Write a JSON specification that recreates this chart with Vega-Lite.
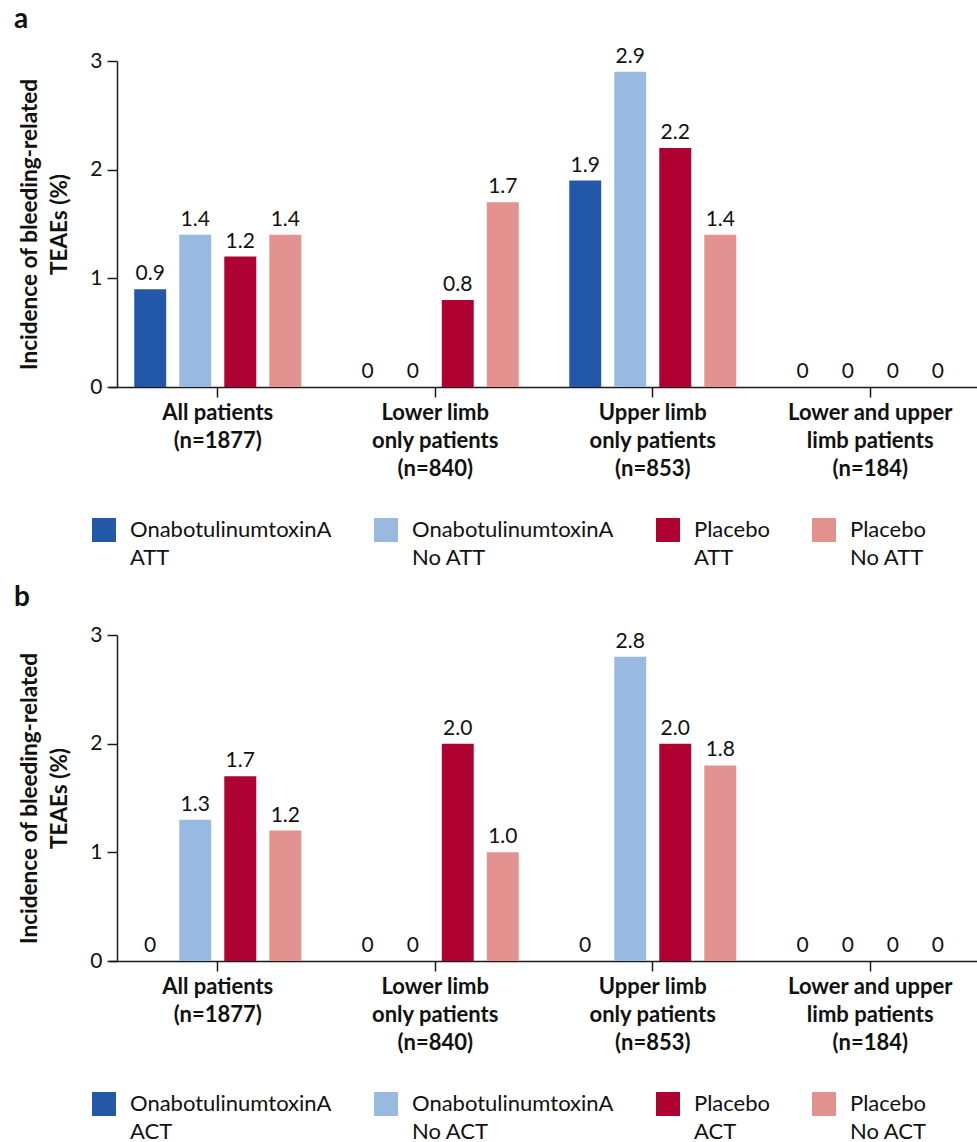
{
  "$schema": "https://vega.github.io/schema/vega-lite/v6.json",
  "background": "white",
  "padding": {"left": 14, "top": 5, "right": 0, "bottom": 0},
  "config": {
    "font": "Lato",
    "view": {"stroke": null},
    "axis": {"domainColor": "#1a1a1a", "tickColor": "#1a1a1a", "labelColor": "#111111", "titleColor": "#111111", "domainWidth": 1.5, "tickWidth": 1.5},
    "concat": {"spacing": 15}
  },
  "vconcat": [
    {
      "title": {"text": "a", "anchor": "start", "frame": "group", "fontSize": 28, "fontWeight": "bold", "color": "#111111", "dx": -95, "offset": 12},
      "width": 870,
      "height": 326,
      "data": {"values": [
        {"cat": "All patients|(n=1877)", "grp": "OnabotulinumtoxinA|ATT", "v": 0.9, "label": "0.9"},
        {"cat": "All patients|(n=1877)", "grp": "OnabotulinumtoxinA|No ATT", "v": 1.4, "label": "1.4"},
        {"cat": "All patients|(n=1877)", "grp": "Placebo|ATT", "v": 1.2, "label": "1.2"},
        {"cat": "All patients|(n=1877)", "grp": "Placebo|No ATT", "v": 1.4, "label": "1.4"},
        {"cat": "Lower limb|only patients|(n=840)", "grp": "OnabotulinumtoxinA|ATT", "v": 0, "label": "0"},
        {"cat": "Lower limb|only patients|(n=840)", "grp": "OnabotulinumtoxinA|No ATT", "v": 0, "label": "0"},
        {"cat": "Lower limb|only patients|(n=840)", "grp": "Placebo|ATT", "v": 0.8, "label": "0.8"},
        {"cat": "Lower limb|only patients|(n=840)", "grp": "Placebo|No ATT", "v": 1.7, "label": "1.7"},
        {"cat": "Upper limb|only patients|(n=853)", "grp": "OnabotulinumtoxinA|ATT", "v": 1.9, "label": "1.9"},
        {"cat": "Upper limb|only patients|(n=853)", "grp": "OnabotulinumtoxinA|No ATT", "v": 2.9, "label": "2.9"},
        {"cat": "Upper limb|only patients|(n=853)", "grp": "Placebo|ATT", "v": 2.2, "label": "2.2"},
        {"cat": "Upper limb|only patients|(n=853)", "grp": "Placebo|No ATT", "v": 1.4, "label": "1.4"},
        {"cat": "Lower and upper|limb patients|(n=184)", "grp": "OnabotulinumtoxinA|ATT", "v": 0, "label": "0"},
        {"cat": "Lower and upper|limb patients|(n=184)", "grp": "OnabotulinumtoxinA|No ATT", "v": 0, "label": "0"},
        {"cat": "Lower and upper|limb patients|(n=184)", "grp": "Placebo|ATT", "v": 0, "label": "0"},
        {"cat": "Lower and upper|limb patients|(n=184)", "grp": "Placebo|No ATT", "v": 0, "label": "0"}
      ]},
      "encoding": {
        "x": {"field": "cat", "type": "nominal", "sort": null, "scale": {"paddingInner": 0.232, "paddingOuter": 0.116},
              "axis": {"title": null, "labelExpr": "split(datum.label, '|')", "labelAngle": 0, "labelFontSize": 22, "labelFontWeight": "bold", "labelLineHeight": 28, "tickSize": 10, "labelPadding": 5}},
        "xOffset": {"field": "grp", "type": "nominal", "sort": null, "scale": {"paddingInner": 0.29, "paddingOuter": 0}},
        "y": {"field": "v", "type": "quantitative", "scale": {"domain": [0, 3]},
              "axis": {"values": [0, 1, 2, 3], "grid": false, "offset": -8, "tickSize": 10, "labelPadding": 5, "labelFontSize": 21, "title": ["Incidence of bleeding-related", "TEAEs (%)"], "titleFontSize": 22.5, "titleFontWeight": "bold", "titleLineHeight": 30, "titlePadding": 18}}
      },
      "layer": [
        {"mark": {"type": "bar"},
         "encoding": {"color": {"field": "grp", "type": "nominal", "sort": null,
           "scale": {"domain": ["OnabotulinumtoxinA|ATT", "OnabotulinumtoxinA|No ATT", "Placebo|ATT", "Placebo|No ATT"], "range": ["#2358A8", "#98B9E0", "#AF0132", "#E3928F"]},
           "legend": {"orient": "none", "legendX": -17, "legendY": 457, "direction": "horizontal", "columns": 4, "title": null, "symbolType": "square", "symbolSize": 576, "symbolStrokeWidth": 0, "labelFontSize": 22, "labelOffset": 14, "columnPadding": 42, "labelLimit": 400, "labelColor": "#111111", "labelExpr": "split(datum.label, '|')",
             "encode": {"labels": {"update": {"lineHeight": {"value": 28}}}}}}}},
        {"mark": {"type": "text", "baseline": "bottom", "dy": -5, "fontSize": 21, "color": "#111111"},
         "encoding": {"text": {"field": "label"}}}
      ]
    },
    {
      "title": {"text": "b", "anchor": "start", "frame": "group", "fontSize": 28, "fontWeight": "bold", "color": "#111111", "dx": -95, "offset": 12},
      "width": 870,
      "height": 326,
      "data": {"values": [
        {"cat": "All patients|(n=1877)", "grp": "OnabotulinumtoxinA|ACT", "v": 0, "label": "0"},
        {"cat": "All patients|(n=1877)", "grp": "OnabotulinumtoxinA|No ACT", "v": 1.3, "label": "1.3"},
        {"cat": "All patients|(n=1877)", "grp": "Placebo|ACT", "v": 1.7, "label": "1.7"},
        {"cat": "All patients|(n=1877)", "grp": "Placebo|No ACT", "v": 1.2, "label": "1.2"},
        {"cat": "Lower limb|only patients|(n=840)", "grp": "OnabotulinumtoxinA|ACT", "v": 0, "label": "0"},
        {"cat": "Lower limb|only patients|(n=840)", "grp": "OnabotulinumtoxinA|No ACT", "v": 0, "label": "0"},
        {"cat": "Lower limb|only patients|(n=840)", "grp": "Placebo|ACT", "v": 2.0, "label": "2.0"},
        {"cat": "Lower limb|only patients|(n=840)", "grp": "Placebo|No ACT", "v": 1.0, "label": "1.0"},
        {"cat": "Upper limb|only patients|(n=853)", "grp": "OnabotulinumtoxinA|ACT", "v": 0, "label": "0"},
        {"cat": "Upper limb|only patients|(n=853)", "grp": "OnabotulinumtoxinA|No ACT", "v": 2.8, "label": "2.8"},
        {"cat": "Upper limb|only patients|(n=853)", "grp": "Placebo|ACT", "v": 2.0, "label": "2.0"},
        {"cat": "Upper limb|only patients|(n=853)", "grp": "Placebo|No ACT", "v": 1.8, "label": "1.8"},
        {"cat": "Lower and upper|limb patients|(n=184)", "grp": "OnabotulinumtoxinA|ACT", "v": 0, "label": "0"},
        {"cat": "Lower and upper|limb patients|(n=184)", "grp": "OnabotulinumtoxinA|No ACT", "v": 0, "label": "0"},
        {"cat": "Lower and upper|limb patients|(n=184)", "grp": "Placebo|ACT", "v": 0, "label": "0"},
        {"cat": "Lower and upper|limb patients|(n=184)", "grp": "Placebo|No ACT", "v": 0, "label": "0"}
      ]},
      "encoding": {
        "x": {"field": "cat", "type": "nominal", "sort": null, "scale": {"paddingInner": 0.232, "paddingOuter": 0.116},
              "axis": {"title": null, "labelExpr": "split(datum.label, '|')", "labelAngle": 0, "labelFontSize": 22, "labelFontWeight": "bold", "labelLineHeight": 28, "tickSize": 10, "labelPadding": 5}},
        "xOffset": {"field": "grp", "type": "nominal", "sort": null, "scale": {"paddingInner": 0.29, "paddingOuter": 0}},
        "y": {"field": "v", "type": "quantitative", "scale": {"domain": [0, 3]},
              "axis": {"values": [0, 1, 2, 3], "grid": false, "offset": -8, "tickSize": 10, "labelPadding": 5, "labelFontSize": 21, "title": ["Incidence of bleeding-related", "TEAEs (%)"], "titleFontSize": 22.5, "titleFontWeight": "bold", "titleLineHeight": 30, "titlePadding": 18}}
      },
      "layer": [
        {"mark": {"type": "bar"},
         "encoding": {"color": {"field": "grp", "type": "nominal", "sort": null,
           "scale": {"domain": ["OnabotulinumtoxinA|ACT", "OnabotulinumtoxinA|No ACT", "Placebo|ACT", "Placebo|No ACT"], "range": ["#2358A8", "#98B9E0", "#AF0132", "#E3928F"]},
           "legend": {"orient": "none", "legendX": -17, "legendY": 457, "direction": "horizontal", "columns": 4, "title": null, "symbolType": "square", "symbolSize": 576, "symbolStrokeWidth": 0, "labelFontSize": 22, "labelOffset": 14, "columnPadding": 42, "labelLimit": 400, "labelColor": "#111111", "labelExpr": "split(datum.label, '|')",
             "encode": {"labels": {"update": {"lineHeight": {"value": 28}}}}}}}},
        {"mark": {"type": "text", "baseline": "bottom", "dy": -5, "fontSize": 21, "color": "#111111"},
         "encoding": {"text": {"field": "label"}}}
      ]
    }
  ],
  "resolve": {"scale": {"color": "independent", "xOffset": "independent"}, "legend": {"color": "independent"}}
}
